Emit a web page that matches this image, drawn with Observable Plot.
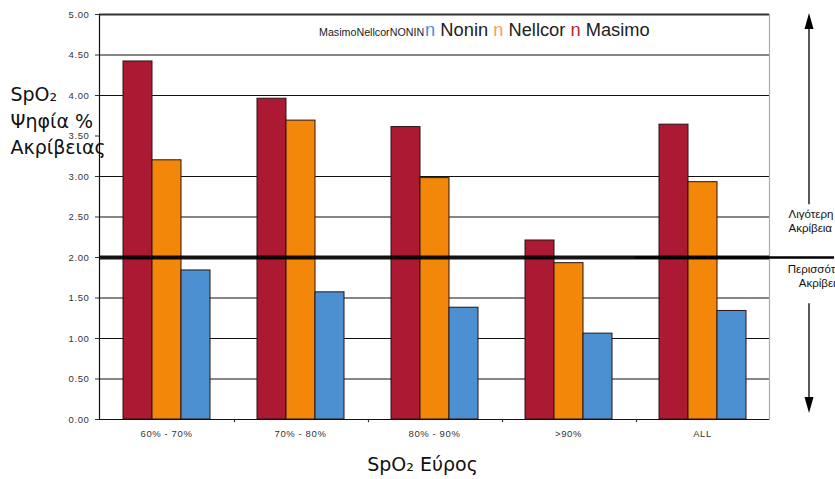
<!DOCTYPE html>
<html>
<head>
<meta charset="utf-8">
<script src="https://cdn.jsdelivr.net/npm/d3@7"></script>
<script src="https://cdn.jsdelivr.net/npm/@observablehq/plot@0.6"></script>
<style>
  html, body { margin: 0; padding: 0; background: white; }
  #wrap { position: relative; width: 835px; height: 479px; overflow: hidden; }
  #wrap g[aria-label$="tick label"] { letter-spacing: 0.6px; font-size: 9.5px; }
  #legend { position: absolute; left: 319px; top: 21px; white-space: nowrap; line-height: 1;
            font-family: "Liberation Sans", Arial, Helvetica, sans-serif; color: #222; }
  #legend .small { font-size: 10.7px; margin-right: 1px; }
  #legend .big { font-size: 18.3px; }
</style>
</head>
<body>
<div id="wrap"></div>
<script>
// ---- data ----
const groups = ["60% - 70%", "70% - 80%", "80% - 90%", ">90%", "ALL"];
const series = ["Masimo", "Nellcor", "Nonin"];
const masimo  = [4.42, 3.96, 3.61, 2.21, 3.64];
const nellcor = [3.20, 3.69, 2.98, 1.93, 2.93];
const nonin   = [1.84, 1.57, 1.38, 1.06, 1.34];
const seriesColors = ["#AB1A32", "#F3870A", "#4C90D2"];
const yTicks = [0, 0.5, 1, 1.5, 2, 2.5, 3, 3.5, 4, 4.5, 5];
const gridValues = [0.5, 1, 1.5, 2.5, 3, 4, 4.5];
const threshold = 2;
const yLabel = "SpO₂\nΨηφία %\nΑκρίβειας";
const xLabel = "SpO₂ Εύρος";
const lessText = "Λιγότερη\nΑκρίβεια";
const moreText = "Περισσότερη\nΑκρίβεια";
const legendSmall = "MasimoNellcorNONIN";
const legendItems = [
  {glyph: "n", name: "Nonin", color: "#4A90D9"},
  {glyph: "n", name: "Nellcor", color: "#F7A24A"},
  {glyph: "n", name: "Masimo", color: "#B52B40"}
];

const values = {Masimo: masimo, Nellcor: nellcor, Nonin: nonin};
const data = groups.flatMap((g, i) => series.map(s => ({group: g, series: s, value: values[s][i]})));

const first = groups[0];
const mid = groups[2];
const last = groups[groups.length - 1];
const boundaries = groups.slice(1);

const arrowUp = { draw(ctx) { ctx.moveTo(0, -8); ctx.lineTo(4.5, 8); ctx.lineTo(-4.5, 8); ctx.closePath(); } };
const arrowDown = { draw(ctx) { ctx.moveTo(0, 8); ctx.lineTo(4.5, -8); ctx.lineTo(-4.5, -8); ctx.closePath(); } };

const chart = Plot.plot({
  width: 835,
  height: 479,
  marginTop: 14,
  marginBottom: 60,
  marginLeft: 97,
  marginRight: 65,
  style: {
    fontFamily: "'Liberation Sans', Arial, Helvetica, sans-serif",
    fontSize: "9.5px",
    color: "#333",
    background: "white"
  },
  fx: {domain: groups, padding: 0, axis: "bottom", label: null, tickSize: 0, tickPadding: 11},
  x: {domain: series, paddingInner: 0, paddingOuter: 0.76, axis: null},
  y: {domain: [0, 5], ticks: yTicks, tickFormat: d3.format(".2f"), tickSize: 4, tickPadding: 6, label: null},
  color: {domain: series, range: seriesColors},
  marks: [
    Plot.ruleY(gridValues, {stroke: "#111", strokeWidth: 1.2}),
    Plot.ruleY([5], {stroke: "#333", strokeWidth: 2}),
    Plot.barY(data, {fx: "group", x: "series", y: "value", fill: "series", stroke: "#2a1212", strokeWidth: 1}),
    Plot.ruleY([0], {stroke: "#111", strokeWidth: 1.2}),
    // small ticks at the group boundaries under the x axis
    Plot.ruleX(boundaries, {fx: d => d, x: () => "Masimo", y1: 0, y2: -0.04, dx: -37.5, stroke: "#333", strokeWidth: 1.2}),
    Plot.frame({anchor: "left", fx: () => first, stroke: "#111", strokeWidth: 1.2}),
    Plot.frame({anchor: "right", fx: () => last, stroke: "#aaa", strokeWidth: 1.2}),
    Plot.ruleY([threshold], {stroke: "#000", strokeWidth: 4, strokeOpacity: 0.92}),
    Plot.ruleY([threshold], {fx: () => last, stroke: "#000", strokeWidth: 2.5, insetRight: -65}),
    // arrows on the right
    Plot.ruleX([0], {fx: () => last, x: () => "Nonin", y1: 4.85, y2: 2.65, dx: 77, stroke: "#000", strokeWidth: 1.3}),
    Plot.dot([0], {fx: () => last, x: () => "Nonin", y: 4.92, dx: 77, symbol: arrowUp, fill: "#000", stroke: "none"}),
    Plot.ruleX([0], {fx: () => last, x: () => "Nonin", y1: 1.43, y2: 0.22, dx: 77, stroke: "#000", strokeWidth: 1.3}),
    Plot.dot([0], {fx: () => last, x: () => "Nonin", y: 0.18, dx: 77, symbol: arrowDown, fill: "#000", stroke: "none"}),
    // right-side annotations
    Plot.text([lessText], {fx: () => last, text: d => d, frameAnchor: "top-right", lineAnchor: "top", textAnchor: "start",
      dx: 19, dy: 194, fontSize: 11.5, lineHeight: 1.22, fill: "#111"}),
    Plot.text([moreText], {fx: () => last, text: d => d, frameAnchor: "top-right", lineAnchor: "top", textAnchor: "middle",
      dx: 51, dy: 249, fontSize: 11.5, lineHeight: 1.22, fill: "#111"}),
    // y-axis title
    Plot.text([yLabel], {fx: () => first, text: d => d, frameAnchor: "top-left", lineAnchor: "top", textAnchor: "start",
      dx: -89, dy: 68, fontSize: 19, lineHeight: 1.39, fill: "#111", fontFamily: "'DejaVu Sans', sans-serif"}),
    // x-axis title
    Plot.text([xLabel], {fx: () => mid, text: d => d, frameAnchor: "bottom", lineAnchor: "top", textAnchor: "middle",
      dx: -12, dy: 37.5, fontSize: 19, fill: "#111", fontFamily: "'DejaVu Sans', sans-serif"})
  ]
});

const wrap = document.getElementById("wrap");
wrap.appendChild(chart);

// legend (rich text, overlaid inside the plot area)
const legend = document.createElement("div");
legend.id = "legend";
const sm = document.createElement("span");
sm.className = "small";
sm.textContent = legendSmall;
legend.appendChild(sm);
legendItems.forEach((it, i) => {
  const g = document.createElement("span");
  g.className = "big";
  g.style.color = it.color;
  g.textContent = (i === 0 ? "" : " ") + it.glyph;
  legend.appendChild(g);
  const n = document.createElement("span");
  n.className = "big";
  n.textContent = " " + it.name;
  legend.appendChild(n);
});
wrap.appendChild(legend);
</script>
</body>
</html>
